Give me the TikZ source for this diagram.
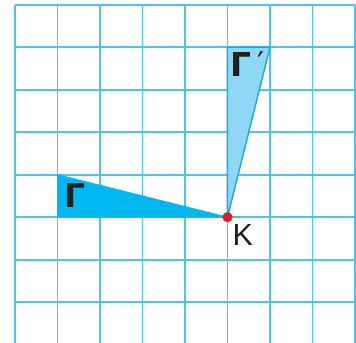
\documentclass[tikz,border=0pt]{standalone}
\usepackage{fontspec}
\setmainfont{Liberation Sans}
\newfontfamily\gammafont{DejaVu Sans}
\usetikzlibrary{positioning}
\definecolor{gridblue}{HTML}{4CC4F0}
\definecolor{trifill}{HTML}{00B8F0}
\definecolor{imgfill}{HTML}{8ED8F6}
\definecolor{imgline}{HTML}{1BA9E6}
\definecolor{dotred}{HTML}{D9202A}

\begin{document}
\begin{tikzpicture}[
    GL/.style={draw=gridblue, line width=1.3pt},
    TR/.style={fill=trifill, draw=trifill, line width=0.6pt},
    IM/.style={fill=imgfill, draw=imgline, line width=1pt, line join=round},
    GM/.style={font=\gammafont\fontsize{22}{24}\selectfont\bfseries, text=black!88,
      inner sep=0pt},
    KL/.style={font=\fontsize{20.5}{22}\selectfont, text=black!88, inner sep=0pt}
  ]
    \useasboundingbox (-0.353,-0.958) rectangle (8.024,7.11);

    %% Raster
    \foreach \x in {0,...,8}
      \draw[GL] (\x,-1) -- (\x,7);
    \foreach \y in {0,...,7}
      \draw[GL] (0,\y) -- (8,\y);

    %% Eckpunkte
    \coordinate (K)  at (5,2);
    \coordinate (A)  at (1,2);
    \coordinate (B)  at (1,3);
    \coordinate (A') at (5,6);
    \coordinate (B') at (6,6);

    %% Dreiecke
    \fill[TR] (A) -- (B) -- (K) -- cycle;
    \filldraw[IM] (K) -- (A') -- (B') -- cycle;

    %% Beschriftungen
    \node[GM] (g)  at (1.41,2.50) {Γ};
    \node[GM, anchor=west] (gi) at (5.07,5.60)
      {Γ\kern4pt\raisebox{1pt}{\mdseries\fontsize{21}{22}\selectfont ′}};

    %% Drehzentrum
    \fill[dotred] (K) circle (0.12);
    \node[KL] (kl) at (5.36,1.58) {K};
  \end{tikzpicture}
\end{document}
